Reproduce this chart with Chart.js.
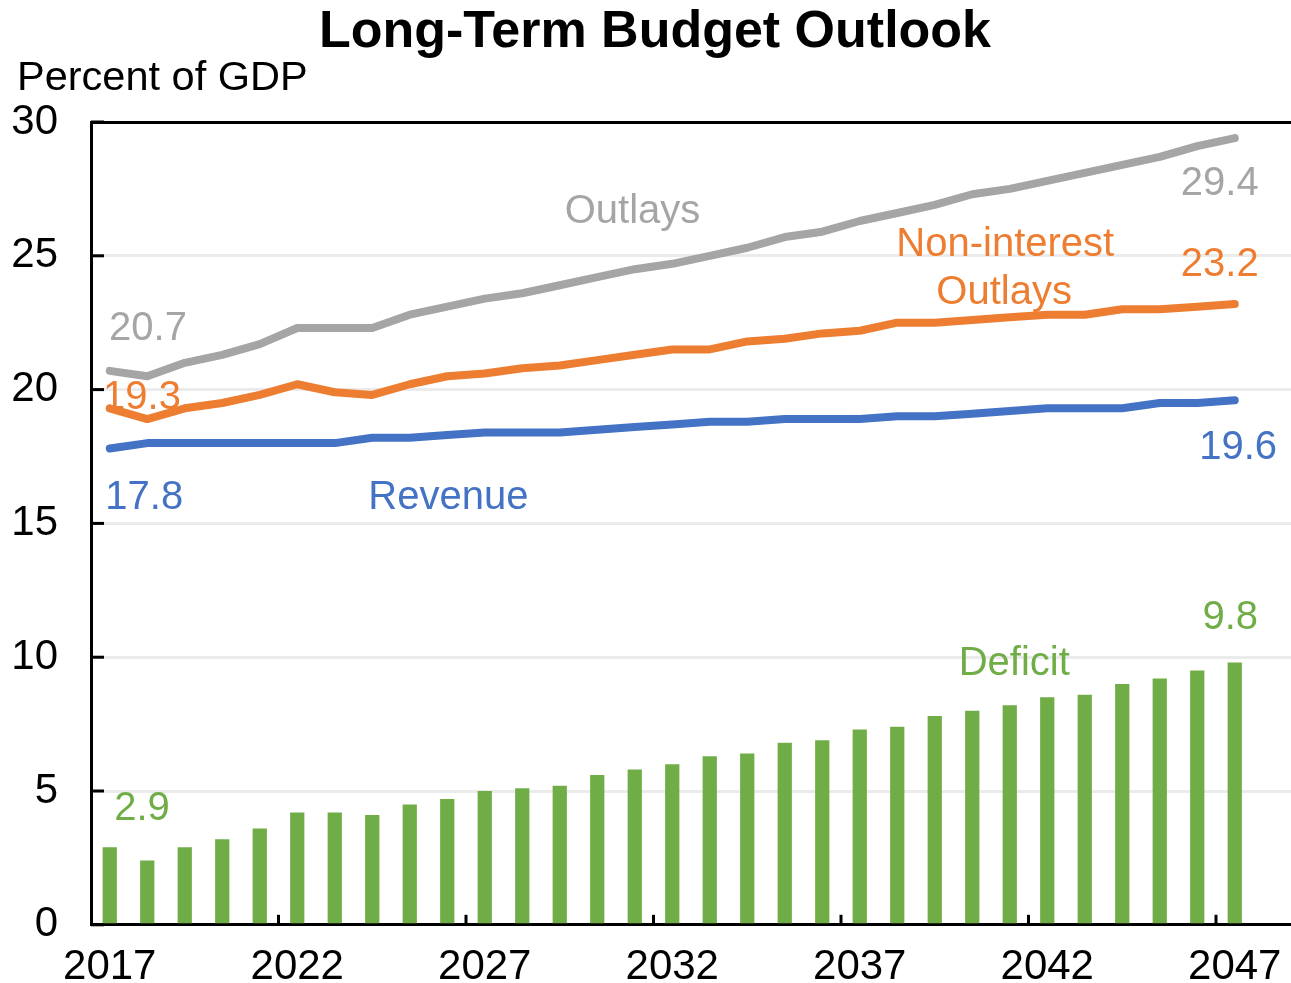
<!DOCTYPE html>
<html>
<head>
<meta charset="utf-8">
<title>Long-Term Budget Outlook</title>
<script src="https://cdn.jsdelivr.net/npm/chart.js@4.4.1/dist/chart.umd.min.js"></script>
<style>
  html, body { margin: 0; padding: 0; background: #fff; }
</style>
</head>
<body>
<canvas id="budgetChart" width="1291" height="983"></canvas>
<script>
// Percent of GDP, 2017-2047
const years = [2017, 2018, 2019, 2020, 2021, 2022, 2023, 2024, 2025, 2026,
               2027, 2028, 2029, 2030, 2031, 2032, 2033, 2034, 2035, 2036,
               2037, 2038, 2039, 2040, 2041, 2042, 2043, 2044, 2045, 2046, 2047];
const outlays = [20.7, 20.5, 21.0, 21.3, 21.7, 22.3, 22.3, 22.3, 22.8, 23.1,
                 23.4, 23.6, 23.9, 24.2, 24.5, 24.7, 25.0, 25.3, 25.7, 25.9,
                 26.3, 26.6, 26.9, 27.3, 27.5, 27.8, 28.1, 28.4, 28.7, 29.1, 29.4];
const nonInterestOutlays = [19.3, 18.9, 19.3, 19.5, 19.8, 20.2, 19.9, 19.8, 20.2, 20.5,
                            20.6, 20.8, 20.9, 21.1, 21.3, 21.5, 21.5, 21.8, 21.9, 22.1,
                            22.2, 22.5, 22.5, 22.6, 22.7, 22.8, 22.8, 23.0, 23.0, 23.1, 23.2];
const revenue = [17.8, 18.0, 18.0, 18.0, 18.0, 18.0, 18.0, 18.2, 18.2, 18.3,
                 18.4, 18.4, 18.4, 18.5, 18.6, 18.7, 18.8, 18.8, 18.9, 18.9,
                 18.9, 19.0, 19.0, 19.1, 19.2, 19.3, 19.3, 19.3, 19.5, 19.5, 19.6];
const deficit = [2.9, 2.4, 2.9, 3.2, 3.6, 4.2, 4.2, 4.1, 4.5, 4.7,
                 5.0, 5.1, 5.2, 5.6, 5.8, 6.0, 6.3, 6.4, 6.8, 6.9,
                 7.3, 7.4, 7.8, 8.0, 8.2, 8.5, 8.6, 9.0, 9.2, 9.5, 9.8];
const yearTicks = [2017, 2022, 2027, 2032, 2037, 2042, 2047];

const FONT = "'Liberation Sans', Arial, sans-serif";
const GRAY = '#A5A5A5';
const ORANGE = '#ED7D31';
const BLUE = '#4472C4';
const GREEN = '#70AD47';

// text labels, placed in data coordinates (x = year, y = percent of GDP)
const annotations = [
    { text: 'Outlays', x: 2030.94, y: 26.77, color: GRAY },
    { text: '20.7', x: 2018.02, y: 22.39, color: GRAY },
    { text: '29.4', x: 2046.6, y: 27.81, color: GRAY },
    { text: 'Non-interest', x: 2040.88, y: 25.53, color: ORANGE },
    { text: 'Outlays', x: 2040.85, y: 23.74, color: ORANGE },
    { text: '19.3', x: 2017.86, y: 19.81, color: ORANGE },
    { text: '23.2', x: 2046.6, y: 24.77, color: ORANGE },
    { text: '17.8', x: 2017.92, y: 16.07, color: BLUE },
    { text: 'Revenue', x: 2026.03, y: 16.07, color: BLUE },
    { text: '19.6', x: 2047.09, y: 17.96, color: BLUE },
    { text: 'Deficit', x: 2041.12, y: 9.87, color: GREEN },
    { text: '9.8', x: 2046.88, y: 11.59, color: GREEN },
    { text: '2.9', x: 2017.86, y: 4.45, color: GREEN }
];

const toPoints = arr => years.map((yr, i) => ({ x: yr, y: arr[i] }));

// Title, unit label, inner tick marks and line labels
const decorations = {
    id: 'decorations',
    afterDraw(chart) {
        const { ctx, chartArea, scales: { x, y } } = chart;
        ctx.save();

        ctx.fillStyle = '#000';
        ctx.textBaseline = 'alphabetic';
        ctx.textAlign = 'center';
        ctx.font = `bold 52px ${FONT}`;
        ctx.fillText('Long-Term Budget Outlook', 655, 47);
        ctx.textAlign = 'left';
        ctx.font = `41.5px ${FONT}`;
        ctx.fillText('Percent of GDP', 17, 90);

        // tick marks point inwards
        ctx.strokeStyle = '#000';
        ctx.lineWidth = 3;
        y.ticks.forEach(t => {
            const py = y.getPixelForValue(t.value);
            ctx.beginPath();
            ctx.moveTo(chartArea.left, py);
            ctx.lineTo(chartArea.left + 13, py);
            ctx.stroke();
        });
        yearTicks.slice(1).forEach(t => {
            const px = x.getPixelForValue(t - 0.5);
            ctx.beginPath();
            ctx.moveTo(px, chartArea.bottom);
            ctx.lineTo(px, chartArea.bottom - 10);
            ctx.stroke();
        });

        ctx.textAlign = 'center';
        ctx.font = `40px ${FONT}`;
        annotations.forEach(a => {
            ctx.fillStyle = a.color;
            ctx.fillText(a.text, x.getPixelForValue(a.x), y.getPixelForValue(a.y) + 14.5);
        });
        ctx.restore();
    }
};

const lineStyle = {
    type: 'line',
    borderWidth: 8,
    pointRadius: 0,
    tension: 0,
    borderCapStyle: 'round',
    borderJoinStyle: 'round'
};

new Chart(document.getElementById('budgetChart'), {
    type: 'bar',
    data: {
        datasets: [
            { ...lineStyle, label: 'Outlays', data: toPoints(outlays), borderColor: GRAY },
            { ...lineStyle, label: 'Non-interest Outlays', data: toPoints(nonInterestOutlays), borderColor: ORANGE },
            { ...lineStyle, label: 'Revenue', data: toPoints(revenue), borderColor: BLUE },
            {
                type: 'bar',
                label: 'Deficit',
                data: toPoints(deficit),
                backgroundColor: GREEN,
                borderWidth: 0,
                barPercentage: 0.38,
                categoryPercentage: 1
            }
        ]
    },
    options: {
        responsive: false,
        animation: false,
        layout: { padding: { top: 122, left: 0, right: 0, bottom: 0 } },
        plugins: {
            legend: { display: false },
            tooltip: { enabled: false }
        },
        scales: {
            x: {
                type: 'linear',
                min: 2016.5,
                max: 2048.5,
                offset: false,
                afterBuildTicks: s => { s.ticks = yearTicks.map(v => ({ value: v })); },
                afterFit: s => {
                    s.height = 58;
                    s.paddingLeft = 0;
                    s.paddingRight = 0;
                },
                ticks: {
                    callback: v => String(v),
                    autoSkip: false,
                    maxRotation: 0,
                    padding: 17,
                    color: '#000',
                    font: { family: FONT, size: 42 }
                },
                grid: { display: false, drawTicks: false, offset: false },
                border: { color: '#000', width: 3 }
            },
            y: {
                min: 0,
                max: 30,
                afterFit: s => { s.width = 91; },
                ticks: {
                    stepSize: 5,
                    padding: 33,
                    color: '#000',
                    font: { family: FONT, size: 42 }
                },
                grid: {
                    color: c => c.tick && c.tick.value === 30 ? '#000' : '#EBEBEB',
                    lineWidth: 3,
                    drawTicks: false
                },
                border: { color: '#000', width: 3 }
            }
        }
    },
    plugins: [decorations]
});
</script>
</body>
</html>
